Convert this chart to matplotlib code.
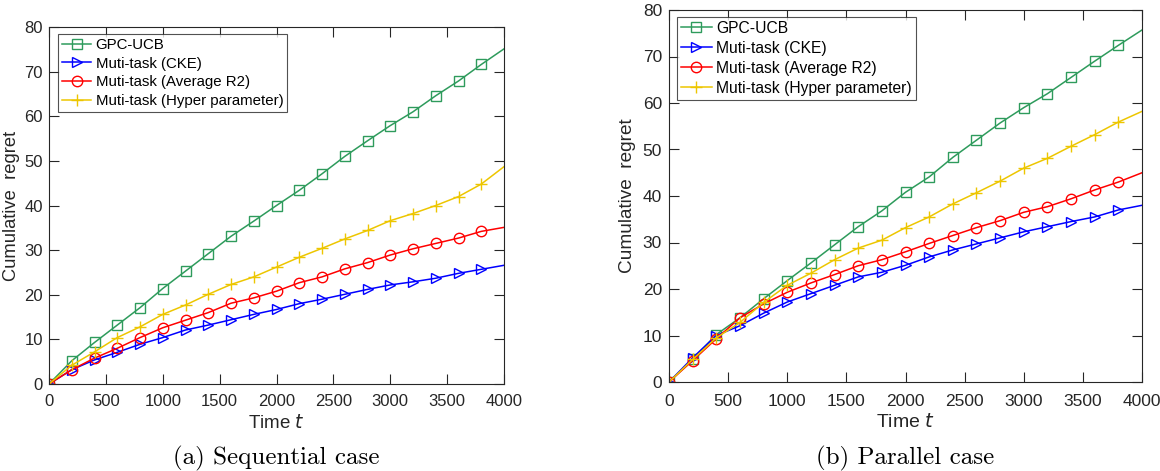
import numpy as np
import matplotlib
matplotlib.use("Agg")
import matplotlib.pyplot as plt

t = [0, 200, 400, 600, 800, 1000, 1200, 1400, 1600, 1800, 2000,
     2200, 2400, 2600, 2800, 3000, 3200, 3400, 3600, 3800, 4000]

# (a) Sequential case
seq_gpc = [0, 5.2, 9.3, 13.2, 17.1, 21.4, 25.3, 29.2, 33.1, 36.5, 40.0,
           43.4, 47.1, 51.0, 54.5, 57.9, 61.0, 64.6, 67.9, 71.6, 75.1]
seq_cke = [0, 3.2, 5.4, 7.1, 8.9, 10.4, 12.1, 13.2, 14.4, 15.6, 16.7,
           18.0, 19.0, 20.1, 21.2, 22.2, 22.9, 23.7, 24.8, 25.7, 26.6]
seq_avg = [0, 3.2, 5.8, 8.0, 10.4, 12.6, 14.3, 16.0, 18.1, 19.3, 20.8,
           22.7, 24.0, 25.8, 27.2, 28.9, 30.3, 31.5, 32.7, 34.2, 35.1]
seq_hyp = [0, 4.2, 7.2, 10.4, 12.8, 15.6, 17.7, 20.1, 22.3, 24.0, 26.2,
           28.4, 30.4, 32.5, 34.4, 36.6, 38.2, 40.0, 42.0, 44.8, 48.7]

# (b) Parallel case
par_gpc = [0, 4.85, 10.2, 13.8, 17.9, 21.8, 25.6, 29.5, 33.4, 36.8, 40.8,
           44.1, 48.3, 52.0, 55.7, 59.0, 62.0, 65.5, 69.0, 72.4, 75.7]
par_cke = [0, 5.2, 10.0, 12.1, 14.8, 17.2, 19.0, 20.8, 22.6, 23.6, 25.1,
           26.9, 28.4, 29.7, 31.0, 32.3, 33.4, 34.5, 35.5, 37.0, 38.0]
par_avg = [0, 4.6, 9.3, 13.8, 16.8, 19.3, 21.3, 23.1, 25.0, 26.3, 28.0,
           29.8, 31.5, 33.2, 34.7, 36.5, 37.7, 39.4, 41.3, 43.0, 45.0]
par_hyp = [0, 4.85, 9.5, 12.8, 17.1, 20.8, 23.4, 26.3, 28.8, 30.5, 33.2,
           35.5, 38.3, 40.7, 43.2, 46.0, 48.1, 50.7, 53.2, 55.9, 58.2]

labels = ["GPC-UCB", "Muti-task (CKE)", "Muti-task (Average R2)",
          "Muti-task (Hyper parameter)"]
xticks = [0, 500, 1000, 1500, 2000, 2500, 3000, 3500, 4000]
yticks = [0, 10, 20, 30, 40, 50, 60, 70, 80]
captions = ["(a) Sequential case", "(b) Parallel case"]

colors = ["#2E9B5C", "#0000FF", "#FF0000", "#EDC600"]
markers = ["s", ">", "o", "+"]
msizes = [7, 7, 7.5, 8.5]

plt.rcParams['font.family'] = ['Liberation Sans', 'DejaVu Sans']
fig = plt.figure(figsize=(11.6, 4.71), dpi=100)

W, H = 1160, 471
boxes = [(49, 504, 27, 384), (669, 1142, 10, 382)]
legboxes = [(58, 34), (677, 17)]
scales = [1.0, 1.04]
xpads = [7.0, 8.3]
ypads = [4.3, 5.0]
xlabelpads = [3.5, 3.0]
ylabelpads = [3.5, 4.5]
datasets = [[seq_gpc, seq_cke, seq_avg, seq_hyp],
            [par_gpc, par_cke, par_avg, par_hyp]]
axcol = "#262626"

for i, (x0, x1, y0, y1) in enumerate(boxes):
    sc = scales[i]
    ax = fig.add_axes([x0 / W, (H - y1) / H, (x1 - x0) / W, (y1 - y0) / H])
    for s, ser in enumerate(datasets[i]):
        ax.plot(t, ser, color=colors[s], marker=markers[s], ms=msizes[s],
                mfc='none', mec=colors[s], mew=1.0, lw=1.1,
                markevery=slice(0, len(t) - 1), label=labels[s])
    ax.set_xlim(0, 4000)
    ax.set_ylim(0, 80)
    ax.set_xticks(xticks)
    ax.set_yticks(yticks)
    ax.tick_params(direction='in', length=7, width=0.8, colors=axcol,
                   labelsize=12 * sc, top=True, right=True)
    ax.tick_params(axis='x', pad=xpads[i])
    ax.tick_params(axis='y', pad=ypads[i])
    for sp in ax.spines.values():
        sp.set_color(axcol)
        sp.set_linewidth(0.8)
    ax.set_xlabel("Time $\\it{t}$", fontsize=13.5 * sc, color=axcol,
                  labelpad=xlabelpads[i])
    ax.set_ylabel("Cumulative  regret", fontsize=13.2 * sc, color=axcol,
                  labelpad=ylabelpads[i])
    lx, ly = legboxes[i]
    leg = ax.legend(loc='upper left',
                    bbox_to_anchor=((lx - x0) / (x1 - x0), 1 - (ly - y0) / (y1 - y0)),
                    fontsize=10.8 * sc, frameon=True, fancybox=False,
                    borderpad=0.25, labelspacing=0.32, handlelength=1.98,
                    handletextpad=0.28, borderaxespad=0)
    leg.get_frame().set_edgecolor(axcol)
    leg.get_frame().set_linewidth(0.8)
    fig.text((x0 + x1) / 2 / W, 1 - 458 / H, captions[i], ha='center',
             va='center', fontsize=18, family='cmr10', color='black')

fig.savefig("out.png", dpi=100)
